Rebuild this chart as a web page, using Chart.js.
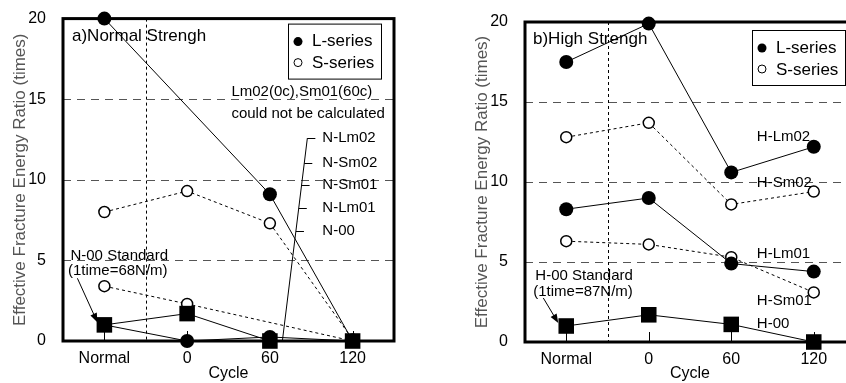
<!DOCTYPE html>
<html>
<head>
<meta charset="utf-8">
<script src="https://cdn.jsdelivr.net/npm/chart.js@4.4.0/dist/chart.umd.min.js"></script>
<style>
  html, body { margin: 0; padding: 0; background: #fff; }
  #wrap { position: relative; width: 846px; height: 383px; overflow: hidden; }
  #normalChart { position: absolute; left: 0; top: 0; }
  #highChart { position: absolute; left: 420px; top: 0; }
</style>
</head>
<body>
<div id="wrap">
  <canvas id="normalChart" width="420" height="383"></canvas>
  <canvas id="highChart" width="460" height="383"></canvas>
</div>
<script>
const cycles = ['Normal', '0', '60', '120'];
const yTicks = [0, 5, 10, 15, 20];

// a) normal strength (null = could not be calculated)
const nLm02 = [20, null, 9.1, 0];
const nLm01 = [1.0, 0, 0.25, 0];
const nSm02 = [8.0, 9.3, 7.3, 0.1];
const nSm01 = [3.4, 2.3, null, 0];
const n00 = [1.0, 1.7, 0, 0];

// b) high strength
const hLm02 = [17.5, 19.9, 10.6, 12.2];
const hLm01 = [8.3, 9.0, 4.9, 4.4];
const hSm02 = [12.8, 13.7, 8.6, 9.4];
const hSm01 = [6.3, 6.1, 5.3, 3.1];
const h00 = [1.0, 1.7, 1.1, 0];

const FONT = "'Liberation Sans', Arial, sans-serif";

function lSeries(label, data) {
  return {
    label, data, spanGaps: true, clip: false,
    borderColor: '#000', borderWidth: 1,
    pointStyle: 'circle', pointRadius: 7, pointHoverRadius: 7,
    pointBackgroundColor: '#000', pointBorderColor: '#000', pointBorderWidth: 0
  };
}
function sSeries(label, data) {
  return {
    label, data, spanGaps: true, clip: false,
    borderColor: '#000', borderWidth: 1, borderDash: [3, 3],
    pointStyle: 'circle', pointRadius: 5.5, pointHoverRadius: 5.5,
    pointBackgroundColor: '#fff', pointBorderColor: '#000', pointBorderWidth: 1.5
  };
}
function stdSeries(label, data) {
  return {
    label, data, spanGaps: true, clip: false,
    borderColor: '#000', borderWidth: 1,
    pointStyle: 'rect', pointRadius: 11, pointHoverRadius: 11,
    pointBackgroundColor: '#000', pointBorderColor: '#000', pointBorderWidth: 0
  };
}

function at(chart, i, v) {
  return [chart.scales.x.getPixelForValue(i), chart.scales.y.getPixelForValue(v)];
}

function arrow(ctx, x1, y1, x2, y2) {
  const a = Math.atan2(y2 - y1, x2 - x1);
  ctx.beginPath();
  ctx.moveTo(x1, y1);
  ctx.lineTo(x2 - 6 * Math.cos(a), y2 - 6 * Math.sin(a));
  ctx.stroke();
  ctx.beginPath();
  ctx.moveTo(x2, y2);
  ctx.lineTo(x2 - 9 * Math.cos(a) + 3.5 * Math.sin(a), y2 - 9 * Math.sin(a) - 3.5 * Math.cos(a));
  ctx.lineTo(x2 - 9 * Math.cos(a) - 3.5 * Math.sin(a), y2 - 9 * Math.sin(a) + 3.5 * Math.cos(a));
  ctx.closePath();
  ctx.fill();
}

const decor = {
  id: 'decor',
  beforeDatasetsDraw(chart, args, o) {
    const { ctx, chartArea: ca } = chart;
    const sy = chart.scales.y, sx = chart.scales.x;
    ctx.save();
    // dashed grid
    ctx.strokeStyle = '#555';
    ctx.lineWidth = 1;
    ctx.setLineDash([8, 6]);
    yTicks.slice(1, -1).forEach(v => {
      const y = Math.round(sy.getPixelForValue(v)) + 0.5;
      ctx.beginPath();
      ctx.moveTo(ca.left, y);
      ctx.lineTo(ca.right, y);
      ctx.stroke();
    });
    // separator between Normal and cycled specimens
    ctx.strokeStyle = '#000';
    ctx.setLineDash([3, 3]);
    const xs = Math.round(sx.getPixelForValue(0.5)) + 0.5;
    ctx.beginPath();
    ctx.moveTo(xs, ca.top);
    ctx.lineTo(xs, ca.bottom);
    ctx.stroke();
    ctx.setLineDash([]);
    // inward ticks
    cycles.forEach((c, i) => {
      const x = Math.round(sx.getPixelForValue(i)) + 0.5;
      ctx.beginPath();
      ctx.moveTo(x, ca.bottom);
      ctx.lineTo(x, ca.bottom - 10);
      ctx.stroke();
    });
    // frame
    ctx.lineWidth = 3;
    ctx.strokeRect(ca.left, ca.top, ca.right - ca.left, ca.bottom - ca.top);
    ctx.restore();
  },
  afterDatasetsDraw(chart, args, o) {
    const { ctx, chartArea: ca } = chart;
    ctx.save();
    ctx.fillStyle = '#000';
    ctx.strokeStyle = '#000';
    ctx.textBaseline = 'middle';
    ctx.textAlign = 'left';

    ctx.font = '17px ' + FONT;
    ctx.fillText(o.title, ca.left + o.titleDx, ca.top + o.titleDy);

    // legend box
    const bx = ca.left + o.legendDx, by = ca.top + o.legendDy;
    ctx.lineWidth = 1;
    ctx.fillStyle = '#fff';
    ctx.fillRect(bx, by, 93, 55);
    ctx.strokeRect(bx + 0.5, by + 0.5, 93, 55);
    ctx.fillStyle = '#000';
    ctx.beginPath();
    ctx.arc(bx + 10, by + 18, 4.5, 0, Math.PI * 2);
    ctx.fill();
    ctx.beginPath();
    ctx.arc(bx + 10, by + 39, 4, 0, Math.PI * 2);
    ctx.stroke();
    ctx.fillText('L-series', bx + 24, by + 18);
    ctx.fillText('S-series', bx + 24, by + 40);

    // specimen labels and notes
    ctx.font = '15px ' + FONT;
    o.labels.forEach(([text, i, v]) => {
      const [x, y] = at(chart, i, v);
      ctx.fillText(text, x, y);
    });

    ctx.lineWidth = 1;
    if (o.bracket) {
      const [x1, y1] = at(chart, o.bracket.from[0], o.bracket.from[1]);
      const [x2, y2] = at(chart, o.bracket.to[0], o.bracket.to[1]);
      ctx.beginPath();
      ctx.moveTo(x1, y1);
      ctx.lineTo(x2, y2);
      ctx.stroke();
      o.bracket.marks.forEach(v => {
        const y = chart.scales.y.getPixelForValue(v);
        const x = x1 + (x2 - x1) * (y - y1) / (y2 - y1);
        ctx.beginPath();
        ctx.moveTo(x, Math.round(y) + 0.5);
        ctx.lineTo(x + 8, Math.round(y) + 0.5);
        ctx.stroke();
      });
    }
    const [ax1, ay1] = at(chart, o.arrow[0], o.arrow[1]);
    const [ax2, ay2] = at(chart, o.arrow[2], o.arrow[3]);
    arrow(ctx, ax1, ay1, ax2, ay2);
    ctx.restore();
  }
};

function makeChart(id, datasets, pad, decorOpts) {
  return new Chart(document.getElementById(id), {
    type: 'line',
    data: { labels: cycles, datasets },
    plugins: [decor],
    options: {
      responsive: false,
      animation: false,
      events: [],
      layout: { padding: pad },
      plugins: { legend: { display: false }, tooltip: { enabled: false }, decor: decorOpts },
      scales: {
        x: {
          type: 'category',
          offset: true,
          grid: { display: false },
          border: { display: false },
          ticks: { color: '#000', padding: 0, font: { family: FONT, size: 16 } },
          title: { display: true, text: 'Cycle', color: '#000', padding: { top: 0, bottom: 0 }, font: { family: FONT, size: 16 } },
          afterFit(s) { s.height = 383 - 341 - pad.bottom + (pad.top === 22 ? -1 : 0); }
        },
        y: {
          min: 0, max: 20,
          grid: { display: false },
          border: { display: false },
          afterBuildTicks(s) { s.ticks = yTicks.map(v => ({ value: v })); },
          ticks: { color: '#000', padding: 9, font: { family: FONT, size: 16 } },
          title: {
            display: true, text: 'Effective Fracture Energy Ratio (times)', color: '#555',
            padding: { top: 10, bottom: 0 }, font: { family: FONT, size: 17 }
          },
          afterFit(s) { s.width = 63; }
        }
      }
    }
  });
}

makeChart('normalChart', [
  stdSeries('N-00', n00),
  lSeries('N-Lm01', nLm01),
  lSeries('N-Lm02', nLm02),
  sSeries('N-Sm01', nSm01),
  sSeries('N-Sm02', nSm02)
], { left: 0, right: 26, top: 17, bottom: 0 }, {
  title: 'a)Normal Strengh', titleDx: 9, titleDy: 18,
  legendDx: 225, legendDy: 5,
  labels: [
    ['Lm02(0c),Sm01(60c)', 1.535, 15.43],
    ['could not be calculated', 1.535, 14.07],
    ['N-Lm02', 2.634, 12.59],
    ['N-Sm02', 2.634, 11.05],
    ['N-Sm01', 2.634, 9.69],
    ['N-Lm01', 2.634, 8.27],
    ['N-00', 2.634, 6.85],
    ['N-00 Standard', -0.41, 5.31],
    ['(1time=68N/m)', -0.44, 4.38]
  ],
  bracket: { from: [2.151, 0], to: [2.453, 12.59], marks: [12.59, 11.05, 9.69, 8.27, 6.85] },
  arrow: [-0.326, 3.89, -0.085, 1.17]
});

makeChart('highChart', [
  stdSeries('H-00', h00),
  lSeries('H-Lm01', hLm01),
  lSeries('H-Lm02', hLm02),
  sSeries('H-Sm01', hSm01),
  sSeries('H-Sm02', hSm02)
], { left: 42, right: 25, top: 22, bottom: 0 }, {
  title: 'b)High Strengh', titleDx: 8, titleDy: 17,
  legendDx: 227, legendDy: 8,
  labels: [
    ['H-Lm02', 2.31, 12.81],
    ['H-Sm02', 2.31, 9.94],
    ['H-Lm01', 2.31, 5.5],
    ['H-Sm01', 2.31, 2.56],
    ['H-00', 2.31, 1.125],
    ['H-00 Standard', -0.375, 4.125],
    ['(1time=87N/m)', -0.4, 3.125]
  ],
  arrow: [-0.278, 2.75, -0.097, 1.19]
});
</script>
</body>
</html>
